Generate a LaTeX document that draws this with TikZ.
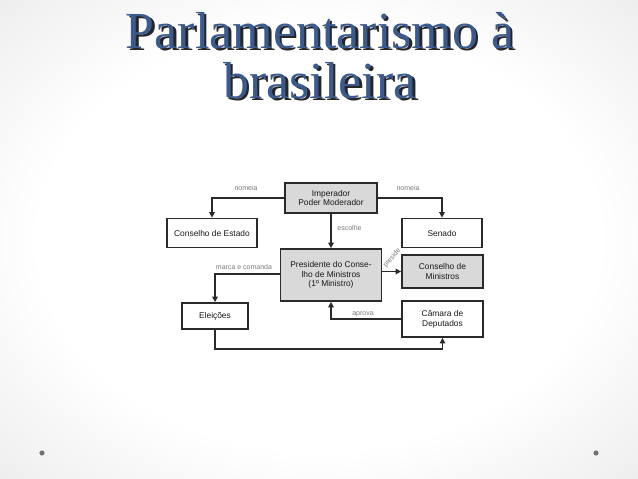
\documentclass[tikz,border=0pt]{standalone}
\usepackage{fontspec}
\setmainfont{Liberation Serif}
\setsansfont{Liberation Sans}
\usetikzlibrary{arrows.meta,shadings}
\definecolor{titleblue}{HTML}{3B5B8E}
\definecolor{boxgray}{HTML}{D9D9D9}
\definecolor{linegray}{HTML}{2A2A2A}
\definecolor{labelgray}{HTML}{7A7A7A}
\pgfdeclareradialshading{slidebg}{\pgfpoint{0bp}{0bp}}{%
  color(0bp)=(white); color(22bp)=(white); color(36bp)=(black!7);
  color(50bp)=(black!15); color(72bp)=(black!21)}
\begin{document}
\begin{tikzpicture}[x=1pt,y=-1pt,
  box/.style={draw=linegray,line width=1.7pt,minimum width=#1,inner sep=1pt,align=center,font=\sffamily\fontsize{8.4}{9.8}\selectfont,text=black!90},
  box/.default=80pt,
  conn/.style={draw=linegray,line width=1.5pt,-{Triangle[length=5.5pt,width=5.5pt]}},
  lab/.style={font=\sffamily\fontsize{7}{8}\selectfont,text=labelgray,inner sep=0.5pt},
  ttl/.style={font=\fontsize{52}{58}\selectfont,anchor=base,inner sep=0pt}]
\useasboundingbox (0,0) rectangle (638,479);
\shade[shading=slidebg] (0,0) rectangle (638,479);
% title
\node[ttl,text=black!85] at (322.5,50) {Parlamentarismo à};
\node[ttl,text=black!85] at (322.5,100) {brasileira};
\node[ttl,text=titleblue] (t1) at (320,48) {Parlamentarismo à};
\node[ttl,text=titleblue] (t2) at (320,98) {brasileira};
% bullets
\fill[black!55] (42,453) circle (2.6);
\fill[black!55] (596,453) circle (2.6);
% boxes
\node[box=92pt,fill=boxgray,minimum height=30pt] (imp) at (331,198) {Imperador\\Poder Moderador};
\node[box=90pt,minimum height=29pt] (ce) at (212,233) {Conselho de Estado};
\node[box=80pt,minimum height=29pt] (sen) at (442,233) {Senado};
\node[box=101pt,fill=boxgray,minimum height=52pt] (pres) at (331,275) {Presidente do Conse-\\lho de Ministros\\(1º Ministro)};
\node[box=81pt,fill=boxgray,minimum height=33pt] (cm) at (442.5,271.5) {Conselho de\\Ministros};
\node[box=66pt,minimum height=26pt] (el) at (215,316) {Eleições};
\node[box=81pt,minimum height=36pt] (cd) at (442.5,319) {Câmara de\\Deputados};
% connectors
\draw[conn] (imp.west) -| (ce.north);
\draw[conn] (imp.east) -| (sen.north);
\draw[conn] (imp.south) -- (pres.north);
\draw[conn] (pres.east |- cm.west) -- (cm.west);
\draw[conn] ([yshift=1pt]pres.west) -| (el.north);
\draw[conn] (cd.west) -| (pres.south);
\coordinate (b1) at (el.south |- 0,349);
\draw[conn] (el.south) -- (b1) -| (cd.south);
% labels
\node[lab] at (246,188) {nomeia};
\node[lab] at (408,188) {nomeia};
\node[lab] at (349.5,228) {escolhe};
\node[lab] at (244,267) {marca e comanda};
\node[lab] at (363,314) {aprova};
\node[lab,rotate=50] at (392,258) {preside};
\end{tikzpicture}
\end{document}
